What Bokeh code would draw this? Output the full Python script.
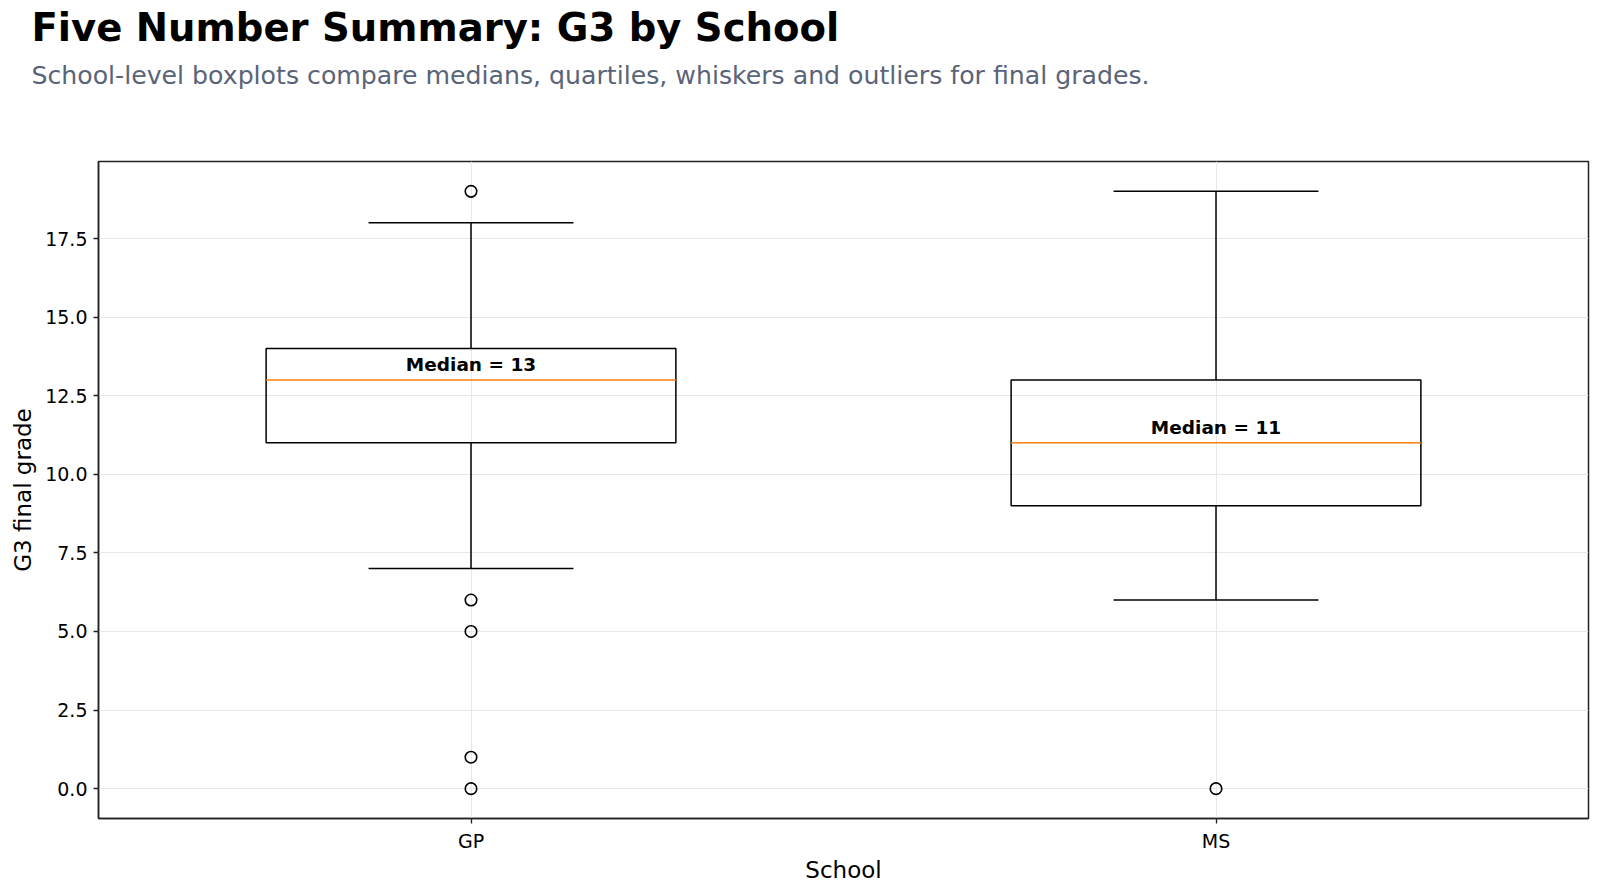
from bokeh.plotting import figure
from bokeh.models import FixedTicker, Title, ColumnDataSource
from bokeh.core.properties import value
from bokeh.embed import file_html
from bokeh.resources import INLINE

# Five-number summaries of final grade (G3) per school
schools = ["GP", "MS"]
whisker_low = [7, 6]
q1 = [11, 9]
median = [13, 11]
q3 = [14, 13]
whisker_high = [18, 19]
outliers_gp = [19, 6, 5, 1, 0]
outliers_ms = [0]
y_ticks = [0.0, 2.5, 5.0, 7.5, 10.0, 12.5, 15.0, 17.5]

FONT = "DejaVu Sans"
BOX_W = 0.55
CAP_W = BOX_W / 2

pos = [i + 1 for i in range(len(schools))]

p = figure(width=1600, height=893, output_backend="svg", toolbar_location=None,
           x_range=(0.5, 2.5), y_range=(-0.95, 19.95),
           min_border_left=98, min_border_right=12, min_border_top=161,
           min_border_bottom=75, background_fill_color="white",
           border_fill_color="white")
p.title = None

box_src = ColumnDataSource(dict(
    x=pos,
    left=[x - BOX_W / 2 for x in pos],
    right=[x + BOX_W / 2 for x in pos],
    cap_l=[x - CAP_W / 2 for x in pos],
    cap_r=[x + CAP_W / 2 for x in pos],
    lo=whisker_low, q1=q1, med=median, q3=q3, hi=whisker_high,
    label=[f"Median = {m}" for m in median],
    label_y=[m + 0.5 for m in median],
))

# whiskers
p.segment(x0="x", y0="q3", x1="x", y1="hi", source=box_src, line_color="black", line_width=1.5)
p.segment(x0="x", y0="q1", x1="x", y1="lo", source=box_src, line_color="black", line_width=1.5)
# caps
p.segment(x0="cap_l", y0="hi", x1="cap_r", y1="hi", source=box_src, line_color="black", line_width=1.5)
p.segment(x0="cap_l", y0="lo", x1="cap_r", y1="lo", source=box_src, line_color="black", line_width=1.5)
# boxes
p.quad(left="left", right="right", bottom="q1", top="q3", source=box_src,
       fill_color=None, line_color="black", line_width=1.5)
# medians
p.segment(x0="left", y0="med", x1="right", y1="med", source=box_src,
          line_color="#ff7f0e", line_width=1.5)
p.text(x="x", y="label_y", text="label", source=box_src, text_align="center",
       text_baseline="alphabetic", text_font=value(FONT), text_font_style="bold",
       text_font_size="18.5px", text_color="black")

# outliers
out_x = [pos[0]] * len(outliers_gp) + [pos[1]] * len(outliers_ms)
out_y = outliers_gp + outliers_ms
p.scatter(out_x, out_y, marker="circle", size=11.5, fill_color=None,
          line_color="black", line_width=1.6)

# axes
p.xaxis.ticker = FixedTicker(ticks=pos)
p.xaxis.major_label_overrides = {x: s for x, s in zip(pos, schools)}
p.yaxis.ticker = FixedTicker(ticks=y_ticks)
p.yaxis.major_label_overrides = {t: f"{t:.1f}" for t in y_ticks}
p.xaxis.axis_label = "School"
p.yaxis.axis_label = "G3 final grade"
for ax in (p.xaxis[0], p.yaxis[0]):
    ax.axis_label_text_font = FONT
    ax.axis_label_text_font_size = "23px"
    ax.axis_label_text_font_style = "normal"
    ax.axis_label_text_color = "black"
    ax.major_label_text_font = FONT
    ax.major_label_text_font_size = "19px"
    ax.major_label_text_color = "black"
    ax.major_tick_in = 0
    ax.major_tick_out = 5
    ax.major_tick_line_color = "#222222"
    ax.major_tick_line_width = 1.3
    ax.minor_tick_line_color = None
    ax.axis_line_color = "#222222"
    ax.axis_line_width = 1.5
    ax.major_label_standoff = 6
p.xaxis.axis_label_standoff = 2
p.yaxis.axis_label_standoff = 6

p.outline_line_color = "#222222"
p.outline_line_width = 1.5
p.xgrid.grid_line_color = "#e8e8e8"
p.ygrid.grid_line_color = "#e8e8e8"
p.xgrid.grid_line_width = 1
p.ygrid.grid_line_width = 1

# heading: a blank spacer nearest the frame, then subtitle, then title
spacer = Title(text=" ", text_font=FONT, text_font_size="10px", standoff=52)
subtitle = Title(text="School-level boxplots compare medians, quartiles, whiskers and outliers for final grades.",
                 text_font=FONT, text_font_size="25.2px", text_font_style="normal",
                 text_color="#5a6478", align="left", offset=-67, standoff=14)
title = Title(text="Five Number Summary: G3 by School", text_font=FONT,
              text_font_size="38.6px", text_font_style="bold", text_color="black",
              align="left", offset=-67, standoff=4)
p.add_layout(spacer, "above")
p.add_layout(subtitle, "above")
p.add_layout(title, "above")

open("out.html", "w").write(file_html(p, INLINE))
